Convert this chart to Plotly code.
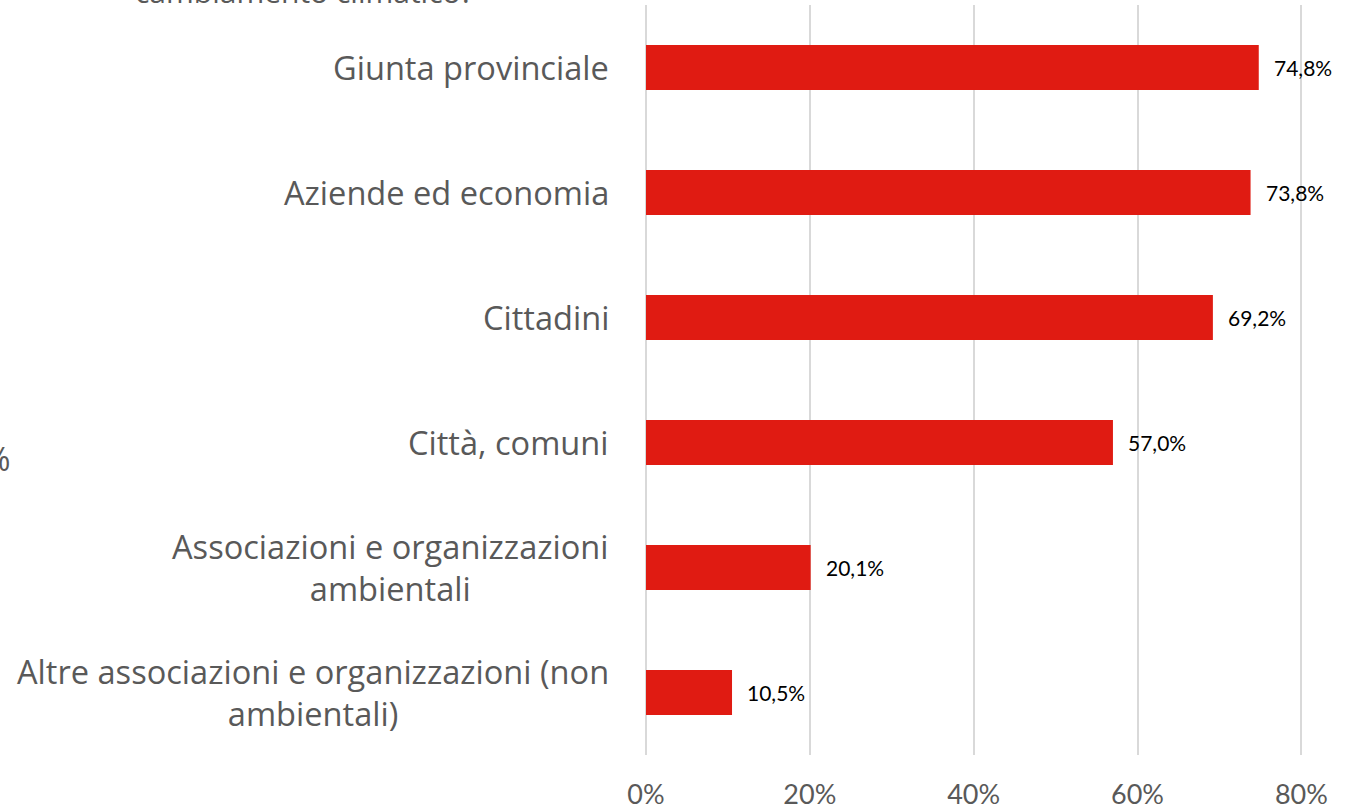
import plotly.graph_objects as go

categories = [
    "Giunta provinciale",
    "Aziende ed economia",
    "Cittadini",
    "Città, comuni",
    "Associazioni e organizzazioni<br>ambientali",
    "Altre associazioni e organizzazioni (non<br>ambientali)",
]
values = [74.8, 73.8, 69.2, 57.0, 20.1, 10.5]
tick_vals = [0, 20, 40, 60, 80]
tick_text = ["0%", "20%", "40%", "60%", "80%"]
title_text = "cambiamento climatico?"

BAR = "#E01B12"
GRAY = "#595959"
GRID = "#D9D9D9"
CAT_FONT = "Open Sans, Segoe UI, sans-serif"
NUM_FONT = "Lato, Calibri, sans-serif"

W, H = 1349, 810
X_MAX = 80.2
PLOT_W = 655 * X_MAX / 80
ML, MT, MB = 646, 5, 55
MR = W - ML - PLOT_W

fig = go.Figure(
    go.Bar(
        x=values,
        y=categories,
        orientation="h",
        marker=dict(color=BAR, line=dict(width=0)),
        width=0.36,
        hoverinfo="skip",
    )
)

annotations = []
for c, v in zip(categories, values):
    annotations.append(dict(
        x=0, y=c, xref="x", yref="y", xanchor="right", yanchor="middle",
        xshift=-35, text=c, showarrow=False, align="center",
        font=dict(family=CAT_FONT, size=32.6, color=GRAY),
    ))
    annotations.append(dict(
        x=v, y=c, xref="x", yref="y", xanchor="left", yanchor="middle",
        xshift=13, text=f"{v:.1f}%".replace(".", ","), showarrow=False,
        font=dict(family=NUM_FONT, size=21, color="#000000"),
    ))

# partially visible title (cut off at top)
annotations.append(dict(
    x=(305 - ML) / PLOT_W, y=1.0, xref="paper", yref="paper",
    xanchor="center", yanchor="bottom", yshift=-9,
    text=title_text, showarrow=False,
    font=dict(family=CAT_FONT, size=30, color=GRAY),
))
# fragment at left edge
annotations.append(dict(
    x=(12 - ML) / PLOT_W, y=(H - MB - 459) / (H - MT - MB),
    xref="paper", yref="paper", xanchor="right", yanchor="middle",
    text="%", showarrow=False,
    font=dict(family=CAT_FONT, size=32, color=GRAY),
))

fig.update_layout(
    width=W, height=H,
    margin=dict(l=ML, r=MR, t=MT, b=MB, pad=0, autoexpand=False),
    paper_bgcolor="white", plot_bgcolor="white",
    showlegend=False,
    annotations=annotations,
    xaxis=dict(
        range=[0, X_MAX],
        tickvals=tick_vals, ticktext=tick_text,
        showgrid=True, gridcolor=GRID, gridwidth=2,
        zeroline=True, zerolinecolor=GRID, zerolinewidth=2,
        showline=False, automargin=False,
        ticks="outside", ticklen=16, tickcolor="rgba(0,0,0,0)",
        tickfont=dict(family=NUM_FONT, size=27, color=GRAY),
        fixedrange=True,
    ),
    yaxis=dict(
        categoryorder="array", categoryarray=categories,
        autorange="reversed", automargin=False,
        showticklabels=False, showgrid=False, zeroline=False, showline=False,
        fixedrange=True,
    ),
)

fig.write_html(
    "out.html",
    config={"displayModeBar": False},
    post_script="document.body.style.margin='0';document.body.style.padding='0';",
)
